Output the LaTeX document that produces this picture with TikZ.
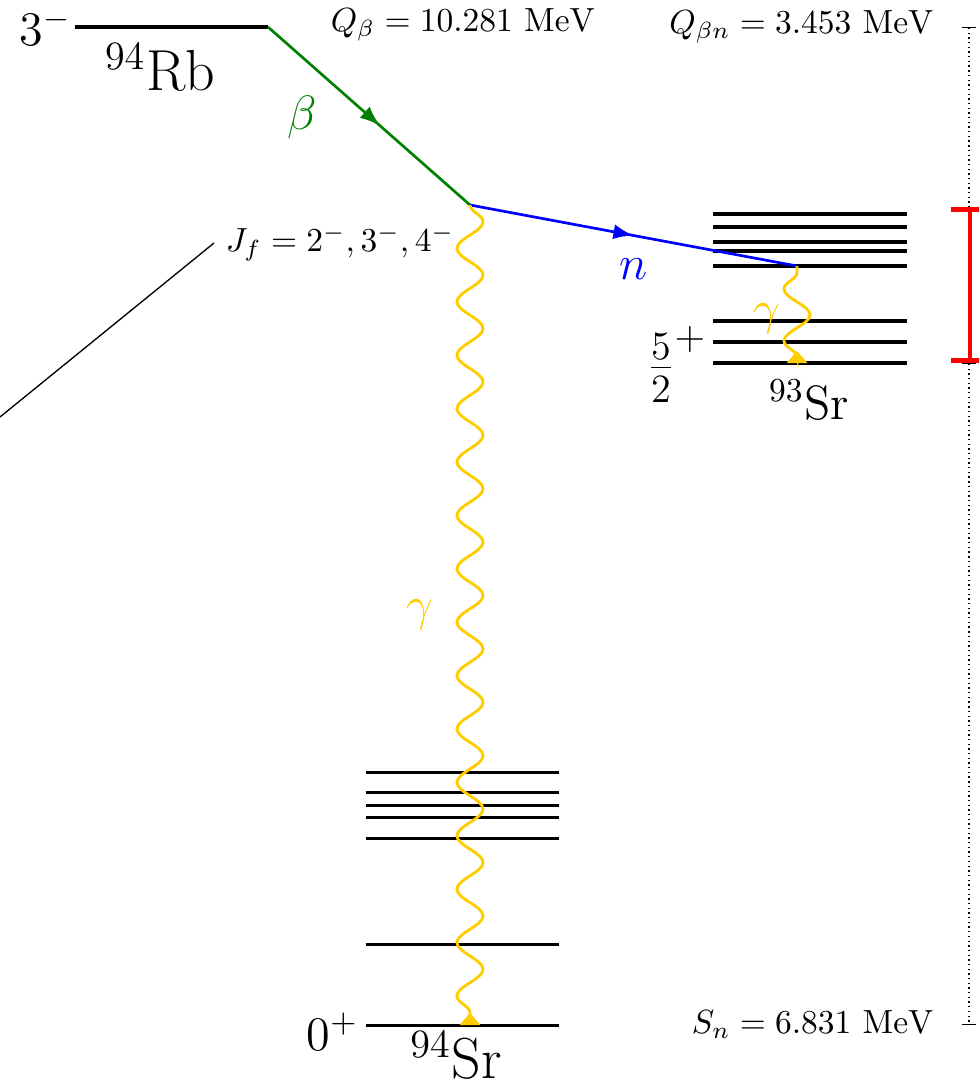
\documentclass[tikz,border=0pt]{standalone}
\usetikzlibrary{positioning,arrows.meta,decorations.pathmorphing,decorations.markings}
\definecolor{betagreen}{RGB}{0,128,0}
\definecolor{gammagold}{RGB}{255,204,0}
\begin{document}
\begin{tikzpicture}[
  x=0.0105cm, y=-0.0105cm,
  >={Latex[length=6pt,width=4.5pt]},
  level/.style={line width=0.9pt},
  midarrow/.style={postaction={decorate}, decoration={markings, mark=at position #1 with {\arrow{>}}}},
  gam/.style={gammagold, line width=0.85pt, decorate, -{Triangle[reversed, width=6pt, length=3.6pt]}},
  bigsnake/.style={decoration={snake, amplitude=3.9pt, segment length=15.95pt, post length=3pt}},
  smallsnake/.style={decoration={snake, mirror, amplitude=3.9pt, segment length=15.5pt, pre length=2pt, post length=1pt}},
  lab/.style={inner sep=2pt, font=\Large},
  energy/.style={densely dotted, thin, {Bar[width=4.2pt]}-{Bar[width=4.2pt]}},
  errbar/.style={red, line width=1.4pt, {Bar[width=11.4pt]}-{Bar[width=11.4pt]}}
]
  \useasboundingbox (0,0) rectangle (979,1084);
  \clip (0,0) rectangle (979,1084);

  \coordinate (rbL) at (75,27);
  \coordinate (rbR) at (268,27);
  \coordinate (feed) at (470,205);
  \coordinate (nend) at (797,266);
  \coordinate (srtwoG) at (797,363);
  \coordinate (srG) at (470,1025);
  \coordinate (off) at (0,417);

  \draw[level] (rbL) -- (rbR);
  \foreach \y in {214,227,242,251,266,321,342,363}
    \draw[level] (713,\y) -- (907,\y);
  \foreach \y in {772,792,805,817,838,944,1025}
    \draw[level] (366,\y) -- (559,\y);

  \node (rbspin) [anchor=east, font=\Large, inner sep=1pt] at (rbL) {$3^-$};
  \node (rbname) [font=\LARGE] at (160,68) {$^{94}$Rb};
  \node (srspin) [anchor=east, font=\Large, inner sep=1pt, yshift=-2pt] at (362,1025) {$0^+$};
  \node (srname) [font=\LARGE] at (456,1056) {$^{94}$Sr};
  \node (srtwoname) [font=\Large] at (809,400) {$^{93}$Sr};
  \node (halfspin) [anchor=east, font=\LARGE, inner sep=1pt] at (711,364) {$\frac{5}{2}^+$};

  \draw[betagreen, thick, midarrow=0.555] (rbR) --
    node[pos=0.32, lab, xshift=-9pt, yshift=-10pt] (betalab) {$\beta$} (feed);
  \draw[blue, thick, midarrow=0.5] (feed) --
    node[pos=0.5, lab, yshift=-10pt] (nlab) {$n$} (nend);

  \draw[gam, bigsnake] (feed) --
    node[pos=0.5, lab, xshift=-15pt] (gamlab) {$\gamma$} (srG);
  \draw[gam, smallsnake] (nend) --
    node[pos=0.54, lab, xshift=-9pt] (gamtwolab) {$\gamma$} (srtwoG);

  \node (jf) [anchor=east] at (466,243) {$J_f = 2^-, 3^-, 4^-$};
  \draw[thin] (jf.west) -- (off);

  \node (qb) at (463,25) {$Q_\beta = 10.281~\mathrm{MeV}$};

  \coordinate (qtop) at (969,27);
  \coordinate (qmid) at (969,363);
  \coordinate (qbot) at (969,1025);
  \coordinate (errtop) at (970,207);
  \coordinate (errbot) at (970,363);
  \draw[energy] (qtop) -- (qmid);
  \draw[errbar] (errtop) -- (errbot);
  \draw[energy] (qmid) -- (qbot);
  \node (qbn) [left=7pt of qtop] {$Q_{\beta n} = 3.453~\mathrm{MeV}$};
  \node (sn) [left=7pt of qbot] {$S_n = 6.831~\mathrm{MeV}$};
\end{tikzpicture}
\end{document}
